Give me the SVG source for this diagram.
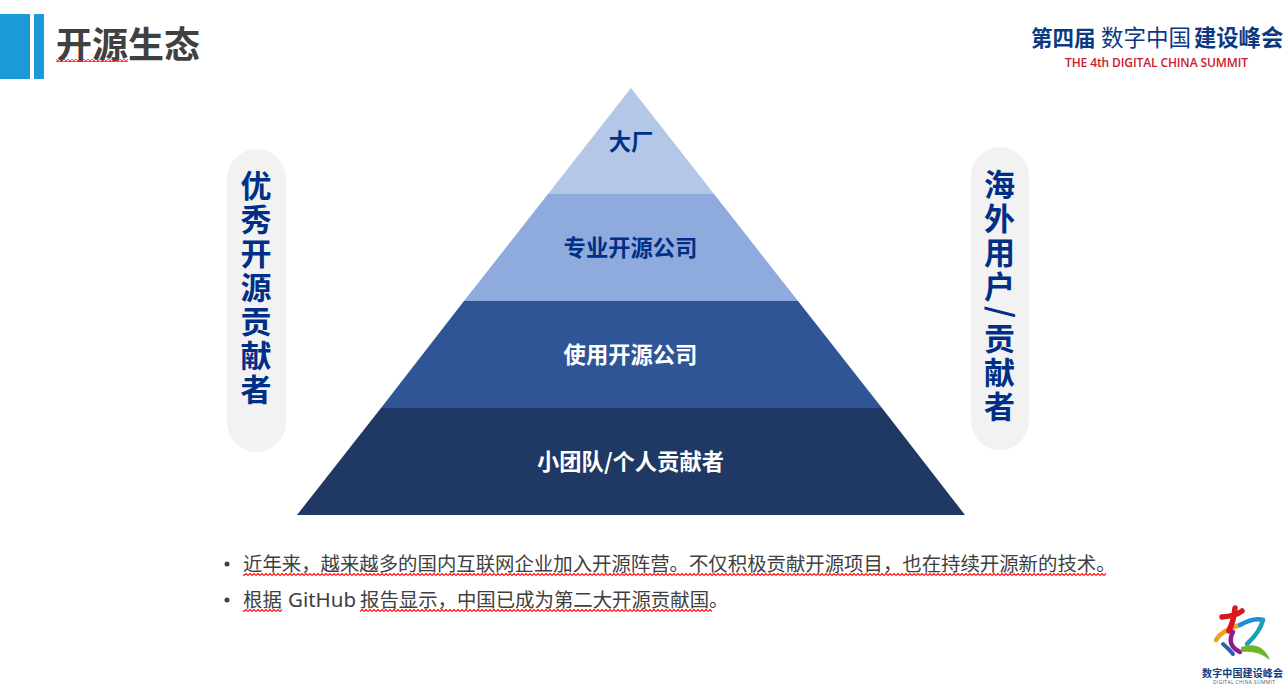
<svg xmlns="http://www.w3.org/2000/svg" width="1288" height="699" viewBox="0 0 1288 699">
<style>
text{font-family:"Noto Sans CJK SC","Noto Sans",sans-serif}
.lvl{font-size:22.300px;font-weight:700;text-anchor:middle}
.side{font-size:31px;font-weight:700;fill:#002f87;text-anchor:middle}
.body{font-size:19.400px;fill:#404040}
</style>
<defs>
<pattern id="sq" width="4" height="3" patternUnits="userSpaceOnUse"><path d="M0 2.500L2 .5L4 2.500" fill="none" stroke="#ff1010" stroke-width="1.200"/></pattern>
</defs>
<rect width="1288" height="699" fill="#fff"/>
<g id="header">
<rect x="0" y="14" width="30" height="65" fill="#1b9ad8"/>
<rect x="34" y="14" width="10" height="65" fill="#1b9ad8"/>
<text x="56" y="58" font-size="36" font-weight="700" fill="#404040">开源生态</text>
<rect x="56" y="59" width="72" height="3" fill="url(#sq)"/>
</g>
<g id="logo-top">
<text x="1031" y="46" font-size="21.5" font-weight="700" fill="#0c3a82">第四届</text>
<text x="1101" y="46" font-size="22.5" font-weight="400" fill="#0c3a82">数字中国</text>
<text x="1194" y="46" font-size="22.3" font-weight="700" fill="#0c3a82">建设峰会</text>
<text x="1065" y="67" font-size="12" font-weight="600" fill="#c8202c" style="font-family:'Open Sans',sans-serif" textLength="183">THE 4th DIGITAL CHINA SUMMIT</text>
</g>
<g id="level-1"><polygon points="631,88 714,194 548,194" fill="#b4c7e7"/><text class="lvl" x="631" y="150" fill="#002f87">大厂</text></g>
<g id="level-2"><polygon points="548,194 714,194 798,301 464,301" fill="#8faadc"/><text class="lvl" x="630.500" y="255.500" fill="#002f87">专业开源公司</text></g>
<g id="level-3"><polygon points="464,301 798,301 882,408 381,408" fill="#2f5597"/><text class="lvl" x="630.500" y="362.500" fill="#fff">使用开源公司</text></g>
<g id="level-4"><polygon points="381,408 882,408 965,515 297,515" fill="#203864"/><text class="lvl" x="630.500" y="469.500" fill="#fff">小团队/个人贡献者</text></g>
<g id="left-pill">
<rect x="227" y="149" width="59" height="303" rx="29.500" fill="#f2f2f2"/>
<text class="side" x="256 256 256 256 256 256 256" y="197 231 265 299 333 367 401">优秀开源贡献者</text>
</g>
<g id="right-pill">
<rect x="971" y="147" width="58" height="303" rx="29" fill="#f2f2f2"/>
<text class="side" x="999.500 999.500 999.500 999.500" y="196 230 264 298">海外用户</text>
<text class="side" transform="translate(999.500 312) rotate(90)" x="0" y="10">/</text>
<text class="side" x="999.500 999.500 999.500" y="350 384 418">贡献者</text>
</g>
<g id="bullets">
<circle cx="227" cy="564" r="2.500" fill="#404040"/>
<text class="body" x="243" y="571">近年来，越来越多的国内互联网企业加入开源阵营。不仅积极贡献开源项目，也在持续开源新的技术。</text>
<rect x="243" y="573" width="863" height="3" fill="url(#sq)"/>
<circle cx="227" cy="600" r="2.500" fill="#404040"/>
<text class="body" y="607"><tspan x="243">根据</tspan><tspan x="288" style="font-family:'Noto Sans',sans-serif" font-size="20.5">GitHub</tspan><tspan x="360">报告显示，中国已成为第二大开源贡献国。</tspan></text>
<rect x="243" y="609" width="39" height="3" fill="url(#sq)"/>
<rect x="360" y="609" width="352" height="3" fill="url(#sq)"/>
</g>
<g id="logo-bottom" fill="none" stroke-linecap="round">
<path d="M1216 640Q1222 630 1240 625" stroke="#f0a020" stroke-width="4.500"/>
<path d="M1240 625Q1254 617 1263 620" stroke="#1b8fd8" stroke-width="4.500"/>
<path d="M1263 620Q1260 632 1247 644" stroke="#1aa0b8" stroke-width="4.500"/>
<path d="M1222 617Q1236 616 1242 611M1235 608Q1234 620 1229 631" stroke="#d7191f" stroke-width="5.500"/>
<path d="M1233 632Q1226 645 1240 652" stroke="#8a1d8e" stroke-width="4.500"/>
<path d="M1223 644Q1229 649 1233 654" stroke="#2a5fb0" stroke-width="4"/>
<path d="M1241 647Q1262 640 1270 660Q1258 650 1241 652Z" fill="#6fb52c" stroke="none"/>
<text x="1202" y="677" font-size="10" font-weight="700" fill="#0c3a82" stroke="none" textLength="81">数字中国建设峰会</text>
<text x="1213" y="684" font-size="5" fill="#555" stroke="none" textLength="62" style="font-family:'Open Sans',sans-serif">DIGITAL CHINA SUMMIT</text>
</g>
</svg>
